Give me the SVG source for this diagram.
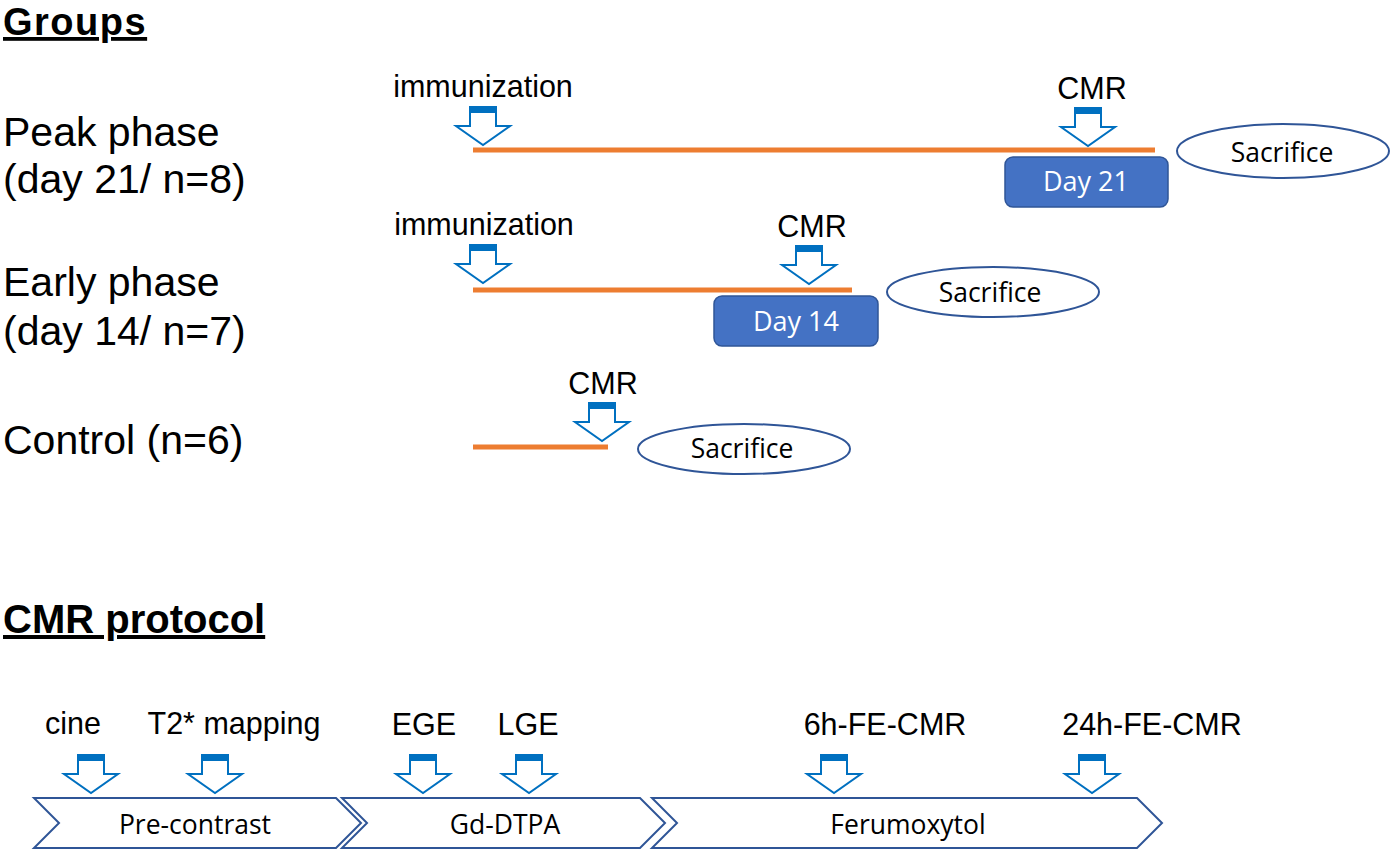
<svg xmlns="http://www.w3.org/2000/svg" xmlns:xlink="http://www.w3.org/1999/xlink" width="1391" height="850" viewBox="0 0 1391 850">
<style>
.lbl{font-family:"Liberation Sans",Arial,sans-serif;font-size:30.5px;fill:#000}
.big{font-family:"Liberation Sans",Arial,sans-serif;font-size:41px;fill:#000}
.hd{font-family:"Liberation Sans",Arial,sans-serif;font-size:40px;font-weight:bold;fill:#000;text-decoration:underline}
.cal{font-family:"Open Sans","Liberation Sans",sans-serif;font-size:26.5px;fill:#000;text-anchor:middle}
.dayt{font-family:"Open Sans","Liberation Sans",sans-serif;font-size:27px;fill:#fff;text-anchor:middle}
.tl{stroke:#ED7D31;stroke-width:5;fill:none}
.ell{fill:#fff;stroke:#2F5597;stroke-width:2}
.day{fill:#4472C4;stroke:#2F5597;stroke-width:1.5}
.chev{fill:#fff;stroke:#2F5597;stroke-width:2;stroke-linejoin:miter}
.mid{text-anchor:middle}
</style>
<defs>
<g id="arr">
<path d="M-13,0 L13,0 L13,19 L27,19 L0,38 L-27,19 L-13,19 Z" fill="#fff" stroke="#0070C0" stroke-width="2"/>
<rect x="-13" y="0" width="26" height="6" fill="#0070C0"/>
</g>
</defs>
<rect width="1391" height="850" fill="#fff"/>

<g id="titles">
<text class="hd" x="3" y="35" style="font-size:38px;letter-spacing:1.5px">Groups</text>
<text class="hd" x="3" y="633">CMR protocol</text>
</g>

<g id="group-labels">
<text class="big" x="3" y="146">Peak phase</text>
<text class="big" x="3" y="193">(day 21/ n=8)</text>
<text class="big" x="3" y="296">Early phase</text>
<text class="big" x="3" y="345">(day 14/ n=7)</text>
<text class="big" x="3" y="454">Control (n=6)</text>
</g>

<g id="connectors">
<line class="tl" x1="473" y1="150" x2="1155" y2="150"/>
<line class="tl" x1="473" y1="290" x2="852" y2="290"/>
<line class="tl" x1="473" y1="447" x2="608" y2="447"/>
</g>

<g id="peak">
<text class="lbl mid" x="483" y="97">immunization</text>
<use xlink:href="#arr" x="483" y="107"/>
<text class="lbl mid" x="1092" y="99">CMR</text>
<use xlink:href="#arr" x="1088" y="108"/>
<rect class="day" x="1005" y="157" width="163" height="50" rx="8"/>
<text class="dayt" x="1086" y="191">Day 21</text>
<ellipse class="ell" cx="1283" cy="151" rx="106" ry="27"/>
<text class="cal" x="1282" y="162">Sacrifice</text>
</g>

<g id="early">
<text class="lbl mid" x="484" y="235">immunization</text>
<use xlink:href="#arr" x="483" y="245"/>
<text class="lbl mid" x="812" y="237">CMR</text>
<use xlink:href="#arr" x="809" y="246"/>
<rect class="day" x="714" y="296" width="164" height="50" rx="8"/>
<text class="dayt" x="796" y="331">Day 14</text>
<ellipse class="ell" cx="993" cy="292" rx="106" ry="25"/>
<text class="cal" x="990" y="302">Sacrifice</text>
</g>

<g id="control">
<text class="lbl mid" x="603" y="394">CMR</text>
<use xlink:href="#arr" x="602" y="403"/>
<ellipse class="ell" cx="744" cy="449" rx="106" ry="25"/>
<text class="cal" x="742" y="458">Sacrifice</text>
</g>

<g id="pre-contrast">
<path class="chev" d="M34,798 L336,798 L361,823 L336,848 L34,848 L59,823 Z"/>
<text class="cal" x="195" y="834">Pre-contrast</text>
</g>
<g id="gd-dtpa">
<path class="chev" d="M342,798 L640,798 L665,823 L640,848 L342,848 L367,823 Z"/>
<text class="cal" x="505" y="834">Gd-DTPA</text>
</g>
<g id="ferumoxytol">
<path class="chev" d="M652,798 L1137,798 L1162,823 L1137,848 L652,848 L677,823 Z"/>
<text class="cal" x="908" y="834">Ferumoxytol</text>
</g>

<g id="protocol-steps">
<text class="lbl mid" x="73" y="734">cine</text>
<use xlink:href="#arr" x="91" y="755"/>
<text class="lbl mid" x="234" y="734">T2* mapping</text>
<use xlink:href="#arr" x="215" y="755"/>
<text class="lbl mid" x="424" y="735">EGE</text>
<use xlink:href="#arr" x="423" y="755"/>
<text class="lbl mid" x="528" y="735">LGE</text>
<use xlink:href="#arr" x="529" y="755"/>
<text class="lbl mid" x="885" y="735">6h-FE-CMR</text>
<use xlink:href="#arr" x="834" y="755"/>
<text class="lbl mid" x="1152" y="735">24h-FE-CMR</text>
<use xlink:href="#arr" x="1092" y="755"/>
</g>
</svg>
